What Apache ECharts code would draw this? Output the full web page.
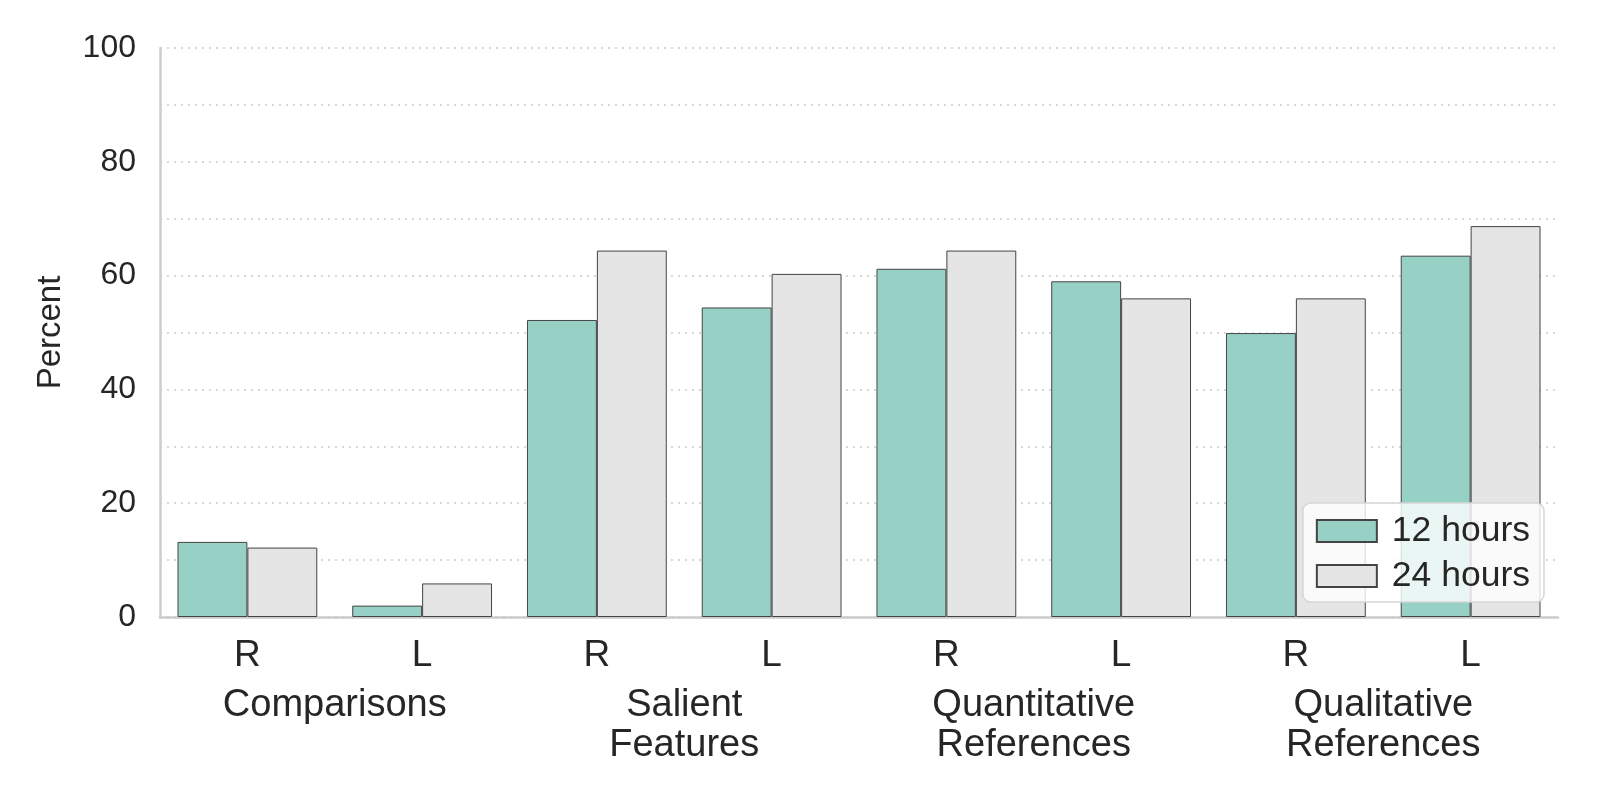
<!DOCTYPE html>
<html>
<head>
<meta charset="utf-8">
<script src="https://cdn.jsdelivr.net/npm/echarts@6/dist/echarts.min.js"></script>
<style>
  html, body { margin: 0; padding: 0; background: #fff; }
  #main { width: 1600px; height: 800px; }
</style>
</head>
<body>
<div id="main"></div>
<script>
var chart = echarts.init(document.getElementById('main'));

// data
var sides = ['R', 'L', 'R', 'L', 'R', 'L', 'R', 'L'];
var groups = ['Comparisons', 'Salient\nFeatures', 'Quantitative\nReferences', 'Qualitative\nReferences'];
var hours12 = [13.2, 2.0, 52.2, 54.4, 61.2, 59.0, 49.9, 63.5];
var hours24 = [12.2, 5.9, 64.4, 60.3, 64.4, 56.0, 56.0, 68.7];

var font = 'Arial, "Liberation Sans", Helvetica, sans-serif';
var textColor = '#262626';

var option = {
    animation: false,
    backgroundColor: '#fff',
    textStyle: { fontFamily: font, color: textColor },
    grid: { left: 160, right: 42, top: 48, bottom: 183 },
    legend: {
        orient: 'vertical',
        right: 56,
        bottom: 198,
        icon: 'rect',
        itemWidth: 60,
        itemHeight: 22,
        itemGap: 7,
        padding: [9, 14, 7, 13],
        backgroundColor: 'rgba(255,255,255,0.8)',
        borderColor: '#d6d6d6',
        borderWidth: 1.5,
        borderRadius: 8,
        textStyle: { fontSize: 35.5, lineHeight: 38, color: textColor, fontFamily: font, padding: [0, 0, 0, 10] },
        data: ['12 hours', '24 hours']
    },
    xAxis: [{
        type: 'category',
        data: sides,
        axisLine: { lineStyle: { color: '#cccccc', width: 2.5 } },
        axisTick: { show: false },
        axisLabel: { fontSize: 37, color: textColor, margin: 20, fontFamily: font }
    }, {
        type: 'category',
        data: groups,
        position: 'bottom',
        axisLine: { show: false },
        axisTick: { show: false },
        axisLabel: { fontSize: 38, lineHeight: 40, color: textColor, margin: 69, fontFamily: font }
    }],
    yAxis: {
        type: 'value',
        min: 0,
        max: 100,
        interval: 10,
        name: 'Percent',
        nameLocation: 'middle',
        nameGap: 93,
        nameTextStyle: { fontSize: 33, color: textColor, fontFamily: font },
        axisLine: { show: true, lineStyle: { color: '#cccccc', width: 2.5 } },
        axisTick: { show: false },
        axisLabel: {
            fontSize: 32,
            color: textColor,
            margin: 24,
            fontFamily: font,
            formatter: function (v) { return v % 20 === 0 ? v : ''; }
        },
        splitLine: { lineStyle: { color: '#cccccc', type: [2, 5], width: 1.5 } }
    },
    series: [{
        name: '12 hours',
        type: 'bar',
        xAxisIndex: 0,
        data: hours12,
        barGap: '0%',
        barCategoryGap: '20%',
        itemStyle: { color: '#97d0c5', borderColor: '#444444', borderWidth: 1 }
    }, {
        name: '24 hours',
        type: 'bar',
        xAxisIndex: 0,
        data: hours24,
        barGap: '0%',
        barCategoryGap: '20%',
        itemStyle: { color: '#e5e5e5', borderColor: '#444444', borderWidth: 1 }
    }]
};

chart.setOption(option);
</script>
</body>
</html>
